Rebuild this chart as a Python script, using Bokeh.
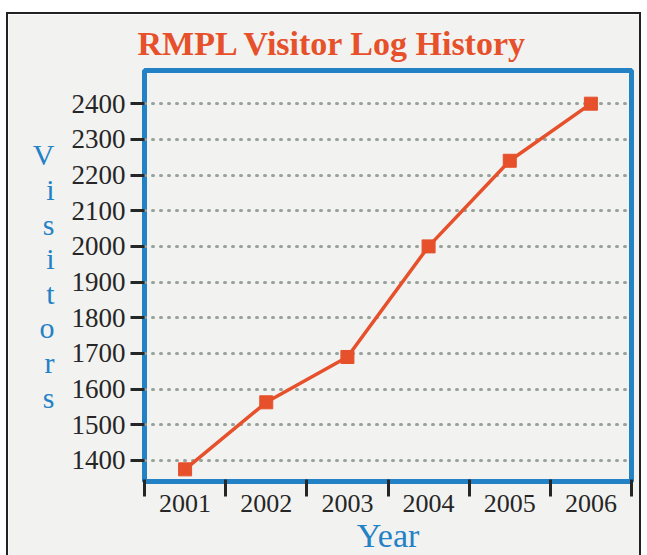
from bokeh.plotting import figure
from bokeh.models import FixedTicker, Range1d
from bokeh.embed import file_html
from bokeh.resources import INLINE

years = [2001, 2002, 2003, 2004, 2005, 2006]
visitors = [1375, 1563, 1690, 2000, 2240, 2400]
y_ticks = [1400, 1500, 1600, 1700, 1800, 1900, 2000, 2100, 2200, 2300, 2400]
x_bounds = [2000.5, 2001.5, 2002.5, 2003.5, 2004.5, 2005.5, 2006.5]

SERIF = "Liberation Serif"
BLUE = "#2381c6"
ORANGE = "#e6502a"
PAPER = "#f2f2f0"
DARK = "#262626"

p = figure(frame_width=487, frame_height=411, output_backend="svg", toolbar_location=None,
           x_range=Range1d(2000.5, 2006.5), y_range=Range1d(1341, 2493),
           min_border_left=136, min_border_right=8, min_border_top=56, min_border_bottom=74,
           background_fill_color=PAPER, border_fill_color=PAPER,
           title="RMPL Visitor Log History")
p.styles = {"margin": "12px 0 0 6px", "border": "2px solid #222"}

p.title.text_font = SERIF
p.title.text_font_size = "34px"
p.title.text_font_style = "bold"
p.title.text_color = ORANGE
p.title.align = "left"
p.title.offset = -7
p.title.standoff = 17

p.outline_line_color = BLUE
p.outline_line_width = 5
p.outline_line_alpha = 1

p.xgrid.grid_line_color = None
p.ygrid.ticker = FixedTicker(ticks=y_ticks)
p.ygrid.grid_line_color = "#97a39a"
p.ygrid.grid_line_width = 3
p.ygrid.grid_line_dash = "1 7"
p.ygrid.grid_line_cap = "round"

p.yaxis.ticker = FixedTicker(ticks=y_ticks)
p.yaxis.axis_line_color = None
p.yaxis.major_tick_line_color = DARK
p.yaxis.major_tick_line_width = 3
p.yaxis.major_tick_out = 14
p.yaxis.major_tick_in = 0
p.yaxis.minor_tick_line_color = None
p.yaxis.major_label_text_font = SERIF
p.yaxis.major_label_text_font_size = "27px"
p.yaxis.major_label_text_color = DARK
p.yaxis.major_label_standoff = 5
p.yaxis.axis_label = "V\ni\ns\ni\nt\no\nr\ns"
p.yaxis.axis_label_orientation = "horizontal"
p.yaxis.axis_label_text_font = SERIF
p.yaxis.axis_label_text_font_style = "normal"
p.yaxis.axis_label_text_font_size = "30px"
p.yaxis.axis_label_text_color = BLUE
p.yaxis.axis_label_text_line_height = 1.05
p.yaxis.axis_label_standoff = 14

p.xaxis.ticker = FixedTicker(ticks=years, minor_ticks=x_bounds)
p.xaxis.axis_line_color = None
p.xaxis.major_tick_line_color = None
p.xaxis.major_tick_out = 0
p.xaxis.major_tick_in = 0
p.xaxis.minor_tick_line_color = DARK
p.xaxis.minor_tick_line_width = 3
p.xaxis.minor_tick_in = 2
p.xaxis.minor_tick_out = 15
p.xaxis.major_label_text_font = SERIF
p.xaxis.major_label_text_font_size = "26px"
p.xaxis.major_label_text_color = DARK
p.xaxis.major_label_standoff = -2
p.xaxis.axis_label = "Year"
p.xaxis.axis_label_text_font = SERIF
p.xaxis.axis_label_text_font_style = "normal"
p.xaxis.axis_label_text_font_size = "34px"
p.xaxis.axis_label_text_color = BLUE
p.xaxis.axis_label_standoff = 2

p.line(years, visitors, line_color=ORANGE, line_width=3.5)
p.scatter(years, visitors, marker="square", size=13, fill_color=ORANGE, line_color=ORANGE)

html = file_html(p, INLINE)
html = html.replace("<body>", '<body style="background:%s">' % PAPER, 1)
open("out.html", "w").write(html)
